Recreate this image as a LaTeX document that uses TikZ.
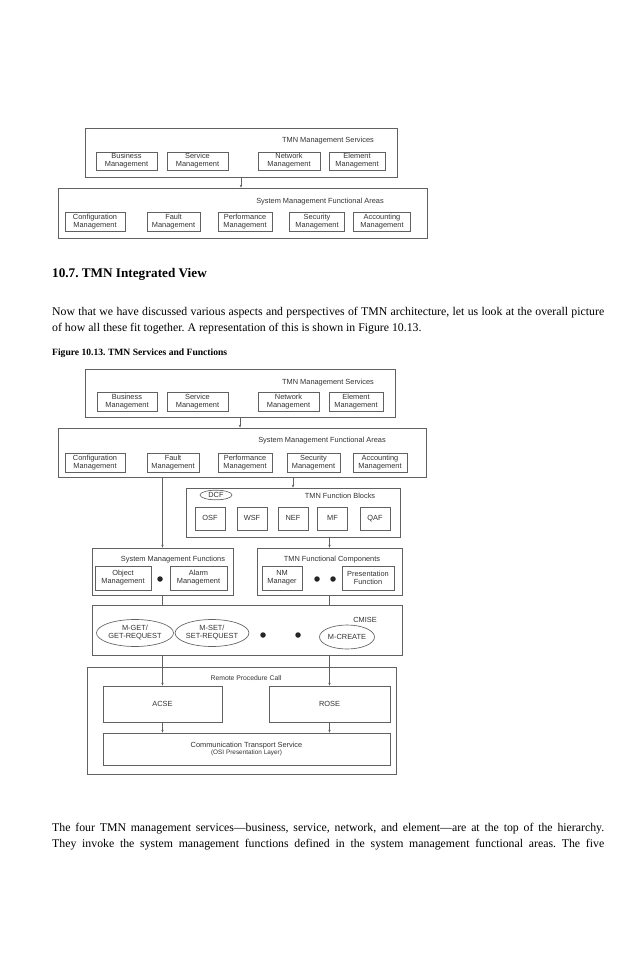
\documentclass[tikz,border=0pt]{standalone}
\usepackage{fontspec}
\setmainfont{Liberation Serif}
\newfontfamily\dsans{Liberation Sans}
\usetikzlibrary{shapes.geometric,arrows.meta}
\frenchspacing
\begin{document}
\begin{tikzpicture}[x=1pt,y=-1pt,
 lc/.style={draw=black!62,line width=0.65pt},
 dfont/.style={font=\dsans\fontsize{7.4}{8}\selectfont,text=black!80},
 bx/.style={lc,rectangle,inner sep=0pt,align=center,dfont},
 ov/.style={lc,ellipse,inner sep=0pt,align=center,dfont},
 sl/.style={text height=5.4pt,text depth=1.4pt},
 lbl/.style={inner sep=0pt,dfont},
 arr/.style={lc,-{Stealth[length=3pt,width=2.4pt]}},
 dotst/.style={circle,fill=black!85,inner sep=0pt,minimum size=5.5pt},
 para/.style={anchor=base west,inner sep=0pt,font=\fontsize{11.8}{13}\selectfont}]
\useasboundingbox (0,0) rectangle (638,976);
\fill[white] (0,0) rectangle (638,976);

% ---------- Figure 1 ----------
\node[bx,minimum width=312pt,minimum height=49pt] (tms1) at (241,152.5) {};
\node[lbl] (tms1t) at (328,141) {TMN Management Services};
\node[bx,minimum width=61pt,minimum height=18pt] (bm1) at (126.5,161) {Business\\Management};
\node[bx,minimum width=61pt,minimum height=18pt] (sm1) at (197.5,161) {Service\\Management};
\node[bx,minimum width=62pt,minimum height=18pt] (nm1) at (289,161) {Network\\Management};
\node[bx,minimum width=56pt,minimum height=18pt] (em1) at (357,161) {Element\\Management};

\node[bx,minimum width=369pt,minimum height=50pt] (smfa1) at (242.5,213) {};
\node[lbl] (smfa1t) at (320,202) {System Management Functional Areas};
\node[bx,minimum width=60pt,minimum height=19pt] (cm1) at (95,221.5) {Configuration\\Management};
\node[bx,minimum width=53pt,minimum height=19pt] (fm1) at (173.5,221.5) {Fault\\Management};
\node[bx,minimum width=54pt,minimum height=19pt] (pm1) at (245,221.5) {Performance\\Management};
\node[bx,minimum width=55pt,minimum height=19pt] (sc1) at (317,221.5) {Security\\Management};
\node[bx,minimum width=57pt,minimum height=19pt] (ac1) at (382,221.5) {Accounting\\Management};
\draw[arr] (tms1.south) -- (tms1.south |- smfa1.north);

% ---------- Text ----------
\node[anchor=base west,inner sep=0pt,font=\bfseries\fontsize{13.2}{15}\selectfont] (hd) at (52,277) {10.7. TMN Integrated View};
\node[para] (p1) at (52,315) {\hbox to 552pt{Now that we have discussed various aspects and perspectives of TMN architecture, let us look at the overall picture}};
\node[para] (p2) at (52,331) {of how all these fit together. A representation of this is shown in Figure 10.13.};
\node[anchor=base west,inner sep=0pt,font=\bfseries\fontsize{9.6}{11}\selectfont] (cap) at (52,355) {Figure 10.13. TMN Services and Functions};

% ---------- Figure 2 ----------
\node[bx,minimum width=310pt,minimum height=48pt] (tms2) at (240,393) {};
\node[lbl] (tms2t) at (328,383) {TMN Management Services};
\node[bx,minimum width=60pt,minimum height=19pt] (bm2) at (127,401.5) {Business\\Management};
\node[bx,minimum width=61pt,minimum height=19pt] (sm2) at (197.5,401.5) {Service\\Management};
\node[bx,minimum width=61pt,minimum height=19pt] (nm2) at (288.5,401.5) {Network\\Management};
\node[bx,minimum width=54pt,minimum height=19pt] (em2) at (356,401.5) {Element\\Management};

\node[bx,minimum width=368pt,minimum height=49pt] (smfa2) at (242,452.5) {};
\node[lbl] (smfa2t) at (322,441) {System Management Functional Areas};
\node[bx,minimum width=60pt,minimum height=19pt] (cm2) at (95,462.5) {Configuration\\Management};
\node[bx,minimum width=52pt,minimum height=19pt] (fm2) at (173,462.5) {Fault\\Management};
\node[bx,minimum width=54pt,minimum height=19pt] (pm2) at (245,462.5) {Performance\\Management};
\node[bx,minimum width=53pt,minimum height=19pt] (sc2) at (313.5,462.5) {Security\\Management};
\node[bx,minimum width=54pt,minimum height=19pt] (ac2) at (380,462.5) {Accounting\\Management};

\node[bx,minimum width=214pt,minimum height=49pt] (tfb) at (293,512.5) {};
\node[ov,sl,minimum width=32pt,minimum height=9pt] (dcf) at (216,495) {DCF};
\node[lbl] (tfbt) at (340,496) {TMN Function Blocks};
\node[bx,sl,minimum width=30pt,minimum height=23pt] (osf) at (210,518.5) {OSF};
\node[bx,sl,minimum width=30pt,minimum height=23pt] (wsf) at (252,518.5) {WSF};
\node[bx,sl,minimum width=30pt,minimum height=23pt] (nef) at (293,518.5) {NEF};
\node[bx,sl,minimum width=30pt,minimum height=23pt] (mf) at (332.5,518.5) {MF};
\node[bx,sl,minimum width=30pt,minimum height=23pt] (qaf) at (375,518.5) {QAF};

\node[bx,minimum width=141pt,minimum height=47pt] (smf) at (162.5,571.5) {};
\node[lbl] (smft) at (173,560) {System Management Functions};
\node[bx,minimum width=56pt,minimum height=24pt] (obj) at (123,578) {Object\\Management};
\node[dotst] (d1) at (160,579) {};
\node[bx,minimum width=57pt,minimum height=24pt] (alm) at (198.5,578) {Alarm\\Management};

\node[bx,minimum width=145pt,minimum height=47pt] (tfc) at (329.5,571.5) {};
\node[lbl] (tfct) at (332,560) {TMN Functional Components};
\node[bx,minimum width=40pt,minimum height=24pt] (nmm) at (282,578) {NM\\Manager};
\node[dotst] (d2) at (317,579) {};
\node[dotst] (d3) at (333,579) {};
\node[bx,minimum width=52pt,minimum height=24pt] (prf) at (368,578) {Presentation\\Function};

\node[bx,minimum width=310pt,minimum height=50pt] (cmise) at (247,630) {};
\node[lbl] (cmiset) at (365,620) {CMISE};
\node[ov,minimum width=77pt,minimum height=27pt] (mget) at (135,633) {M-GET/\\GET-REQUEST};
\node[ov,minimum width=63pt,minimum height=27pt] (mset) at (212,633) {M-SET/\\SET-REQUEST};
\node[dotst] (d4) at (263,635) {};
\node[dotst] (d5) at (298,635) {};
\node[ov,sl,minimum width=55pt,minimum height=24pt] (mcr) at (347,637) {M-CREATE};

\node[bx,minimum width=309pt,minimum height=107pt] (rpc) at (241.5,720.5) {};
\node[lbl,font=\dsans\fontsize{6.8}{8}\selectfont] (rpct) at (246,678) {Remote Procedure Call};
\node[bx,sl,minimum width=119pt,minimum height=36pt] (acse) at (162.5,704) {ACSE};
\node[bx,sl,minimum width=121pt,minimum height=36pt] (rose) at (329.5,704) {ROSE};
\node[bx,minimum width=287pt,minimum height=32pt] (cts) at (246.5,749) {Communication Transport Service\\[-1pt]{\fontsize{6.4}{7}\selectfont (OSI Presentation Layer)}};

\draw[arr] (tms2.south) -- (tms2.south |- smfa2.north);
\draw[arr] (smfa2.south -| smf.north) -- (smf.north);
\draw[arr] (smfa2.south -| tfb.north) -- (tfb.north);
\draw[arr] (tfb.south -| tfc.north) -- (tfc.north);
\draw[lc] (smf.south) -- (smf.south |- cmise.north);
\draw[lc] (tfc.south) -- (tfc.south |- cmise.north);
\draw[arr] (cmise.south -| acse.north) -- (acse.north);
\draw[arr] (cmise.south -| rose.north) -- (rose.north);
\draw[arr] (acse.south) -- (acse.south |- cts.north);
\draw[arr] (rose.south) -- (rose.south |- cts.north);

% ---------- Bottom text ----------
\node[para] (q1) at (52,831) {\hbox to 552pt{The four TMN management services---business, service, network, and element---are at the top of the hierarchy.}};
\node[para] (q2) at (52,847) {\hbox to 552pt{They invoke the system management functions defined in the system management functional areas. The five}};
\end{tikzpicture}
\end{document}
